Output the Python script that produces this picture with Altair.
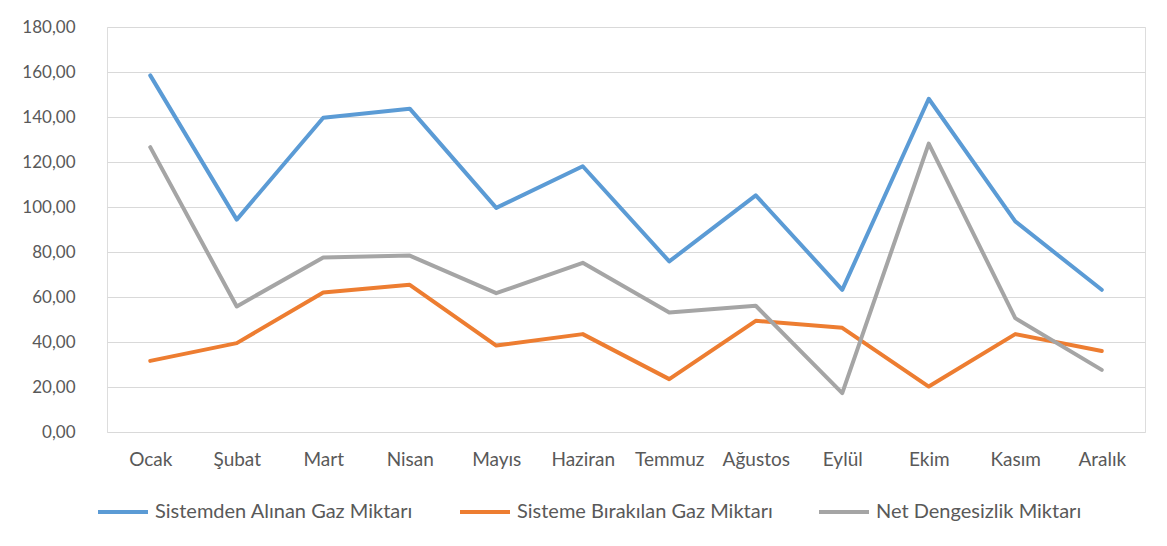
import altair as alt
import pandas as pd

months = ["Ocak", "Şubat", "Mart", "Nisan", "Mayıs", "Haziran",
          "Temmuz", "Ağustos", "Eylül", "Ekim", "Kasım", "Aralık"]
series_names = ["Sistemden Alınan Gaz Miktarı",
                "Sisteme Bırakılan Gaz Miktarı",
                "Net Dengesizlik Miktarı"]
alinan = [158.5, 94.4, 139.7, 143.7, 99.6, 118.1, 75.8, 105.2, 63.2, 148.1, 93.6, 63.2]
birakilan = [31.6, 39.5, 62.0, 65.4, 38.4, 43.5, 23.5, 49.4, 46.3, 20.2, 43.5, 36.0]
net = [126.6, 55.8, 77.6, 78.4, 61.7, 75.2, 53.1, 56.1, 17.3, 128.2, 50.6, 27.6]
colors = ["#5B9BD5", "#ED7D31", "#A5A5A5"]

rows = []
for name, vals in zip(series_names, [alinan, birakilan, net]):
    for m, v in zip(months, vals):
        rows.append({"Ay": m, "Seri": name, "Deger": v})
df = pd.DataFrame(rows)

FONT = "Lato"

chart = alt.Chart(df).mark_line(strokeWidth=4, strokeJoin="round", strokeCap="round").encode(
    x=alt.X("Ay:N", sort=months, title=None,
            scale=alt.Scale(paddingInner=0, paddingOuter=0.5),
            axis=alt.Axis(labelAngle=0, ticks=False, domain=False, grid=False,
                          labelPadding=18, labelFontSize=19, labelColor="#595959",
                          labelFont=FONT)),
    y=alt.Y("Deger:Q", title=None,
            scale=alt.Scale(domain=[0, 180], nice=False),
            axis=alt.Axis(values=list(range(0, 181, 20)), ticks=False, domain=False,
                          grid=True, gridColor="#D9D9D9", gridWidth=1,
                          labelExpr="replace(format(datum.value, '.2f'), '.', ',')",
                          labelPadding=32, labelFontSize=17, labelColor="#595959",
                          labelFont=FONT)),
    color=alt.Color("Seri:N", sort=series_names,
                    scale=alt.Scale(domain=series_names, range=colors),
                    legend=alt.Legend(title=None, orient="none", direction="horizontal",
                                      legendX=-11, legendY=458,
                                      symbolType="stroke", symbolSize=2500,
                                      symbolStrokeWidth=4, labelFontSize=20,
                                      labelColor="#595959", labelFont=FONT,
                                      labelLimit=400,
                                      labelOffset=5, columnPadding=38)),
    order=alt.Order("Seri:N")
).properties(
    width=1038, height=405,
    autosize=alt.AutoSizeParams(type="none"),
    padding={"left": 99, "top": 19, "right": 10, "bottom": 100}
).configure_view(stroke=None).configure(background="white")

chart.save("out.html", embed_options={"renderer": "svg", "actions": False})
